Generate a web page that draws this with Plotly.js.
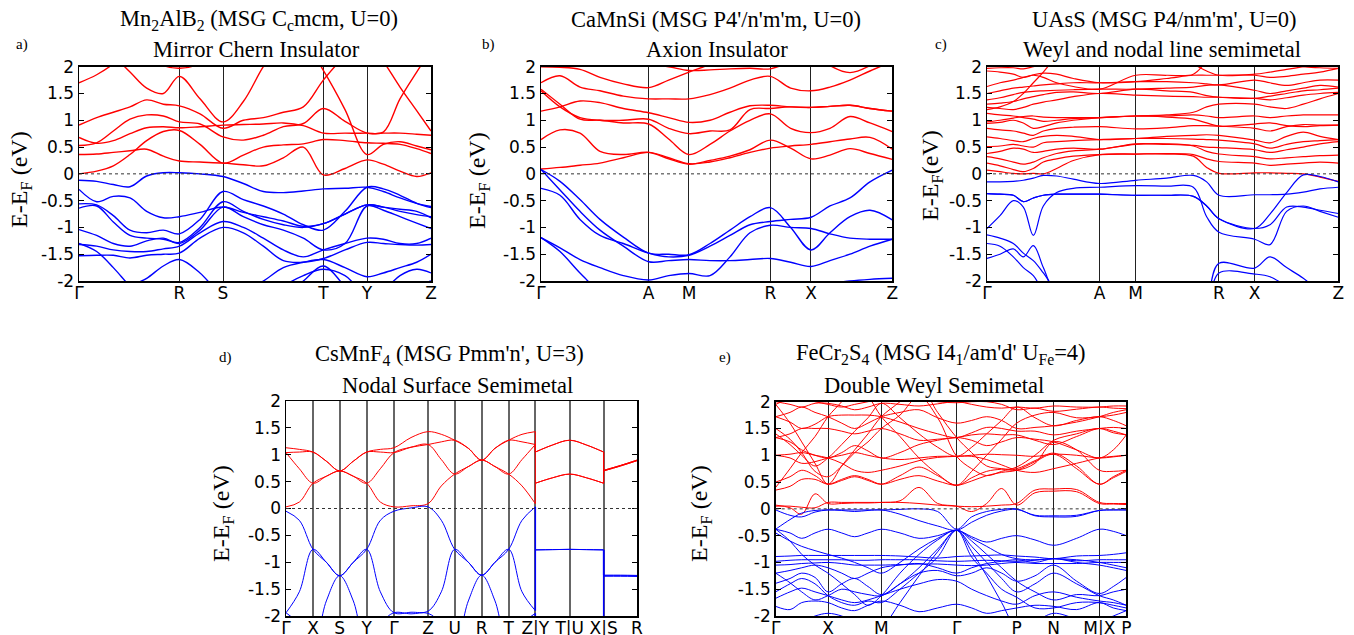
<!DOCTYPE html>
<html><head><meta charset="utf-8">
<script src="https://cdn.plot.ly/plotly-3.0.1.min.js"></script>
<style>html,body{margin:0;padding:0;background:#fff;} #chart{width:1354px;height:635px;}</style>
</head><body><div id="chart"></div>
<script>
// ---------------- Panel a: Mn2AlB2 ----------------
const kA = [0,53,103,153,203,253,301,363,432,493,553,613,673,733,798,864,913,963,1013,1056];
const kA_ticks = [0,301,432,733,864,1056];
const kA_labels = ['Γ','R','S','T','Y','Z'];
const aRed = [
 [0.36,0.37,0.40,0.43,0.46,0.33,0.24,0.22,0.20,0.17,0.15,0.30,0.50,-0.02,0.10,0.26,0.18,0.05,-0.05,0.02],
 [0.00,0.05,0.15,0.36,0.62,0.79,0.81,0.55,0.20,0.35,0.50,0.54,0.56,0.64,0.62,0.58,0.57,0.55,0.47,0.38],
 [0.68,0.57,0.62,0.75,0.86,0.88,0.86,0.88,0.91,0.92,0.93,0.95,0.90,0.76,0.76,0.76,0.78,1.40,1.90,2.30],
 [0.53,0.58,0.80,1.02,1.10,1.08,0.97,0.93,0.69,0.63,0.72,0.88,0.94,1.22,0.98,0.76,0.76,0.76,0.74,0.72],
 [0.91,1.05,1.15,1.25,1.38,1.30,1.27,1.12,0.85,1.00,1.05,1.15,1.25,1.75,2.20,2.50,2.50,2.50,2.50,2.50],
 [1.70,1.85,2.05,2.30,2.50,2.50,2.50,2.50,2.50,2.50,2.50,2.50,2.50,2.50,2.50,2.50,2.50,2.50,2.50,2.50],
 [2.50,2.40,2.20,1.90,1.60,1.50,1.82,1.40,0.97,1.35,2.00,2.50,2.50,2.50,2.50,2.50,2.50,2.50,2.50,2.50],
 [2.50,2.50,2.50,2.40,2.20,2.02,1.97,2.05,2.30,2.50,2.50,2.50,2.50,2.50,2.50,2.50,2.50,2.50,2.50,2.50],
 [2.50,2.50,2.50,2.50,2.50,2.50,2.50,2.50,2.50,2.50,2.50,2.50,2.50,1.93,1.20,0.36,0.55,0.60,0.52,0.45],
 [2.50,2.50,2.50,2.50,2.50,2.50,2.50,2.50,2.50,2.50,2.50,2.50,2.50,2.50,2.50,2.50,2.10,1.62,1.18,0.80]
];
const aBlue = [
 [-0.12,-0.14,-0.20,-0.24,-0.04,0.02,0.02,0.00,-0.05,-0.18,-0.33,-0.35,-0.32,-0.28,-0.27,-0.25,-0.33,-0.45,-0.55,-0.61],
 [-0.29,-0.52,-0.42,-0.45,-0.70,-0.82,-0.80,-0.72,-0.62,-0.72,-0.80,-0.88,-0.98,-0.93,-0.75,-0.58,-0.62,-0.70,-0.76,-0.80],
 [-0.56,-0.58,-0.78,-1.05,-1.10,-1.05,-1.12,-0.85,-0.33,-0.48,-0.60,-0.75,-0.95,-1.05,-0.70,-0.25,-0.28,-0.40,-0.55,-0.63],
 [-0.64,-0.60,-0.90,-1.15,-1.20,-1.22,-1.28,-1.00,-0.52,-0.70,-0.85,-0.95,-1.00,-0.93,-0.75,-0.58,-0.62,-0.66,-0.70,-0.82],
 [-1.04,-1.15,-1.30,-1.35,-1.25,-1.20,-1.30,-1.05,-0.62,-0.80,-0.95,-1.05,-1.20,-1.42,-1.30,-0.60,-0.68,-0.80,-0.92,-1.02],
 [-1.32,-1.35,-1.42,-1.45,-1.45,-1.40,-1.35,-1.10,-0.89,-1.00,-1.20,-1.42,-1.55,-1.42,-1.30,-1.20,-1.22,-1.30,-1.30,-1.20],
 [-1.53,-1.52,-1.52,-1.57,-1.52,-1.50,-1.48,-1.20,-1.00,-1.10,-1.35,-1.62,-1.65,-1.58,-1.42,-1.28,-1.30,-1.32,-1.33,-1.32],
 [-2.60,-2.50,-2.30,-2.10,-1.95,-1.72,-1.60,-1.85,-2.30,-2.50,-2.40,-2.10,-1.90,-1.78,-1.90,-2.30,-2.40,-2.30,-2.10,-2.00],
 [-2.60,-2.60,-2.60,-2.60,-2.60,-2.60,-2.60,-2.60,-2.40,-2.20,-2.00,-1.75,-1.65,-1.60,-1.75,-1.92,-1.85,-1.75,-1.65,-1.50],
 [-2.60,-2.60,-2.60,-2.60,-2.60,-2.60,-2.60,-2.60,-2.60,-2.60,-2.50,-2.30,-2.00,-1.72,-2.10,-2.50,-2.20,-1.90,-1.78,-1.85],
 [-1.30,-1.45,-1.75,-2.10,-2.40,-2.60,-2.60,-2.60,-2.60,-2.60,-2.60,-2.60,-2.60,-2.60,-2.60,-2.60,-2.60,-2.60,-2.60,-2.60]
];

// ---------------- Panel b: CaMnSi ----------------
const kB = [0,57,117,177,247,323,383,444,507,567,627,688,749,810,867,927,987,1054];
const kB_ticks = [0,323,444,688,810,1054];
const kB_labels = ['Γ','A','M','R','X','Z'];
const bRed = [
 [0.09,0.12,0.16,0.20,0.30,0.40,0.30,0.19,0.22,0.30,0.40,0.48,0.52,0.55,0.60,0.65,0.68,0.46],
 [0.64,0.82,0.76,0.42,0.36,0.40,0.28,0.18,0.25,0.33,0.45,0.63,0.48,0.28,0.35,0.47,0.38,0.27],
 [1.17,1.25,1.36,1.33,1.22,1.14,1.05,0.96,1.00,1.15,1.27,1.28,1.25,1.24,1.26,1.28,1.22,1.17],
 [1.58,1.30,1.02,1.00,0.95,0.93,0.65,0.36,0.55,0.80,1.00,1.12,0.85,0.77,0.85,1.07,0.95,0.79],
 [1.70,1.83,1.62,1.55,1.45,1.40,1.40,1.40,1.48,1.60,1.75,1.82,1.60,1.55,1.62,1.75,1.92,2.10],
 [1.55,1.25,1.05,1.00,1.00,1.02,0.85,0.75,0.80,0.82,1.20,1.22,1.25,1.24,1.26,1.28,1.22,1.17],
 [2.00,1.99,1.95,1.80,1.68,1.61,1.75,1.90,2.05,2.30,2.50,2.50,2.50,2.50,2.50,2.50,2.50,2.50],
 [2.50,2.50,2.50,2.30,2.10,2.05,2.00,1.93,1.94,1.96,1.97,1.96,2.10,2.30,2.50,2.50,2.50,2.50],
 [2.50,2.50,2.50,2.50,2.50,2.50,2.50,2.50,2.50,2.50,2.50,2.50,2.50,2.30,2.02,1.89,2.02,2.30]
];
const bBlue = [
 [0.08,-0.14,-0.48,-0.85,-1.18,-1.48,-1.50,-1.51,-1.30,-1.05,-0.80,-0.63,-1.00,-1.42,-1.10,-0.80,-0.68,-0.86],
 [0.08,-0.30,-0.70,-1.05,-1.35,-1.64,-1.62,-1.60,-1.62,-1.62,-1.60,-1.58,-1.65,-1.73,-1.62,-1.50,-1.35,-1.22],
 [-0.27,-0.40,-0.85,-1.15,-1.30,-1.48,-1.55,-1.52,-1.35,-1.15,-0.95,-0.89,-0.85,-0.81,-0.60,-0.45,-0.15,0.07],
 [-1.19,-1.38,-1.60,-1.75,-1.90,-1.98,-1.90,-1.86,-1.90,-1.55,-1.10,-0.96,-1.00,-1.02,-1.12,-1.20,-1.22,-1.22],
 [-1.19,-1.45,-1.85,-2.20,-2.40,-2.40,-2.30,-2.20,-2.20,-2.30,-2.40,-2.40,-2.30,-2.15,-2.05,-2.00,-1.97,-1.95]
];

// ---------------- Panel c: UAsS ----------------
const kC = [0,39,79,109,139,169,209,259,338,446,539,619,659,696,803,849,899,949,999,1054];
const kC_ticks = [0,338,446,696,803,1054];
const kC_labels = ['Γ','A','M','R','X','Z'];
const cRed = [
 [0.07,0.04,0.01,0.00,0.01,0.00,0.10,0.25,0.36,0.37,0.37,0.33,0.12,0.01,0.02,0.02,0.01,0.00,-0.06,-0.14],
 [0.20,0.15,0.08,0.04,0.10,0.22,0.28,0.33,0.36,0.37,0.38,0.36,0.28,0.23,0.20,0.16,0.18,0.20,0.22,0.20],
 [0.32,0.28,0.22,0.18,0.22,0.30,0.38,0.43,0.46,0.55,0.56,0.52,0.42,0.37,0.32,0.28,0.30,0.32,0.34,0.35],
 [0.38,0.42,0.48,0.46,0.40,0.42,0.46,0.48,0.46,0.56,0.55,0.53,0.50,0.49,0.45,0.40,0.45,0.50,0.56,0.60],
 [0.51,0.52,0.55,0.52,0.50,0.58,0.60,0.62,0.64,0.66,0.66,0.65,0.64,0.63,0.56,0.48,0.55,0.60,0.62,0.64],
 [0.69,0.66,0.62,0.60,0.66,0.70,0.72,0.70,0.64,0.66,0.70,0.72,0.73,0.72,0.63,0.58,0.70,0.78,0.70,0.64],
 [0.85,0.82,0.80,0.76,0.72,0.80,0.85,0.87,0.88,0.84,0.86,0.90,0.90,0.89,0.85,0.80,0.88,0.92,0.91,0.91],
 [0.94,0.96,1.00,0.95,0.85,0.88,0.95,1.00,1.05,1.08,1.06,1.02,0.95,0.89,0.93,0.95,0.90,0.88,0.90,0.91],
 [0.97,1.00,1.04,1.07,1.08,1.06,1.05,1.05,1.05,1.08,1.08,1.10,1.08,1.05,1.08,1.05,1.08,1.10,1.10,1.10],
 [1.13,1.10,1.08,1.05,1.02,0.98,1.00,1.03,1.05,1.08,1.10,1.15,1.25,1.30,1.30,1.25,1.22,1.30,1.40,1.50],
 [1.24,1.22,1.20,1.24,1.30,1.34,1.38,1.44,1.50,1.47,1.45,1.44,1.43,1.43,1.41,1.38,1.42,1.47,1.50,1.52],
 [1.30,1.32,1.35,1.40,1.44,1.48,1.52,1.53,1.50,1.58,1.55,1.52,1.46,1.43,1.41,1.45,1.50,1.55,1.57,1.60],
 [1.38,1.42,1.48,1.52,1.54,1.55,1.56,1.57,1.58,1.58,1.60,1.62,1.65,1.66,1.56,1.50,1.55,1.60,1.65,1.62],
 [1.50,1.55,1.60,1.62,1.64,1.66,1.68,1.70,1.70,1.72,1.72,1.70,1.68,1.66,1.75,1.70,1.65,1.70,1.75,1.75],
 [1.63,1.70,1.75,1.80,1.85,1.88,1.86,1.78,1.70,1.72,1.78,1.84,1.84,1.84,1.84,1.80,1.82,1.86,1.90,1.97],
 [1.92,1.90,1.86,1.80,1.84,1.80,1.70,1.63,1.58,1.84,1.84,1.86,2.10,2.30,2.30,2.20,2.10,2.00,1.98,1.97],
 [1.97,1.98,1.98,1.96,2.00,2.05,2.20,2.40,2.40,2.40,2.30,2.05,1.92,1.84,1.86,1.90,1.95,2.00,2.05,2.10],
 [1.20,1.25,1.35,1.50,1.70,1.90,2.20,2.50,2.50,2.50,2.50,2.50,2.50,2.50,2.50,2.50,2.50,2.50,2.50,2.50]
];
const cBlue = [
 [-0.15,-0.15,-0.14,-0.12,-0.08,-0.03,-0.04,-0.10,-0.18,-0.12,-0.08,-0.03,-0.15,-0.40,-0.39,-0.39,-0.38,-0.34,-0.28,-0.25],
 [-0.37,-0.38,-0.40,-0.52,-0.45,-0.40,-0.38,-0.38,-0.38,-0.40,-0.40,-0.42,-0.60,-0.84,-1.02,-0.75,-0.35,-0.02,-0.05,-0.15],
 [-1.02,-0.78,-0.50,-0.62,-1.15,-0.60,-0.35,-0.27,-0.25,-0.22,-0.23,-0.25,-0.80,-1.09,-1.22,-1.32,-0.70,-0.60,-0.70,-0.81],
 [-1.14,-1.20,-1.30,-1.48,-1.62,-1.85,-2.20,-2.50,-2.50,-2.50,-2.50,-2.50,-2.30,-1.67,-1.76,-1.55,-1.75,-1.95,-2.20,-2.50],
 [-1.30,-1.35,-1.55,-1.75,-1.90,-2.20,-2.50,-2.50,-2.50,-2.50,-2.50,-2.50,-2.40,-1.85,-1.87,-1.92,-2.10,-2.30,-2.50,-2.50],
 [-1.58,-1.50,-1.40,-1.55,-1.34,-1.75,-2.30,-2.50,-2.50,-2.50,-2.50,-2.50,-2.50,-2.50,-2.50,-2.50,-2.50,-2.50,-2.50,-2.50],
 [-0.37,-0.38,-0.40,-0.52,-0.45,-0.40,-0.38,-0.38,-0.38,-0.40,-0.40,-0.42,-0.60,-0.84,-1.02,-0.95,-0.62,-0.62,-0.68,-0.74]
];

// ---------------- Panel d: CsMnF4 (three path segments) ----------------
const kD1 = [0,40,81,121,161,202,242,283,324,375,426,466,506,547,587,627,668,708,748];
const kD2 = [748,799,851,902,953];
const kD3 = [953,1003,1053];
const kD_ticks = [0,81,161,242,324,426,506,587,668,748,851,953,1053];
const kD_labels = ['Γ','X','S','Y','Γ','Z','U','R','T','Z|Y','T|U','X|S','R'];
const dRed1 = [
 [1.13,1.10,1.05,0.88,0.70,0.88,1.05,1.10,1.13,1.32,1.43,1.38,1.27,1.12,0.90,1.12,1.27,1.38,1.43],
 [1.04,1.05,1.05,0.88,0.70,0.88,1.05,1.05,1.04,1.14,1.19,1.24,1.27,1.12,0.90,1.12,1.27,1.24,1.19],
 [1.04,0.74,0.47,0.60,0.70,0.60,0.47,0.74,1.04,1.14,1.19,0.91,0.64,0.78,0.90,0.78,0.64,0.91,1.19],
 [0.03,0.12,0.47,0.60,0.70,0.60,0.47,0.12,0.03,0.05,0.09,0.42,0.64,0.78,0.90,0.78,0.64,0.42,0.09]
];
const dRed2 = [
 [1.05,1.18,1.27,1.18,1.05],
 [1.05,1.18,1.27,1.18,1.05],
 [0.47,0.57,0.64,0.57,0.47],
 [0.47,0.57,0.64,0.57,0.47]
];
const dRed3 = [[0.71,0.80,0.90],[0.70,0.79,0.89],[0.71,0.80,0.90],[0.70,0.79,0.89]];
const dBlue1 = [
 [-0.05,-0.22,-0.76,-1.00,-1.25,-1.00,-0.76,-0.22,-0.05,0.01,0.03,-0.22,-0.76,-1.00,-1.24,-1.00,-0.76,-0.22,0.03],
 [-1.94,-1.55,-0.76,-1.00,-1.25,-1.00,-0.76,-1.55,-1.94,-1.93,-1.91,-1.55,-0.76,-1.00,-1.24,-1.00,-0.76,-1.55,-1.90],
 [-1.94,-2.15,-2.60,-1.72,-1.25,-1.72,-2.60,-2.15,-1.94,-1.96,-1.95,-2.15,-2.60,-1.72,-1.24,-1.72,-2.60,-2.15,-1.95]
];
const dBlue2 = [
 [-0.77,-0.765,-0.76,-0.765,-0.77],
 [-0.77,-0.765,-0.76,-0.765,-0.77],
 [-2.60,-2.60,-2.60,-2.60,-2.60]
];
const dBlue3 = [[-1.24,-1.24,-1.245],[-1.26,-1.26,-1.265],[-1.25,-1.25,-1.25]];

// ---------------- Panel e: FeCr2S4 ----------------
const kE = [0,43,78,118,157,198,237,277,317,373,430,486,543,588,633,678,723,778,834,903,971,1013,1052];
const kE_ticks = [0,157,317,543,723,834,971,1052];
const kE_labels = ['Γ','X','M','Γ','P','N','M|X','P'];
const eRed = [
 [0.05,0.05,0.03,0.02,0.12,0.12,0.12,0.12,0.12,0.12,0.10,0.07,0.05,0.04,0.05,0.07,0.10,0.35,0.37,0.36,0.12,0.10,0.10],
 [0.07,0.02,-0.10,0.28,0.10,0.10,0.11,0.11,0.12,0.15,0.40,0.10,0.05,-0.05,0.10,0.38,0.07,0.30,0.33,0.32,0.10,0.09,0.08],
 [0.35,0.42,0.55,0.55,0.46,0.55,0.62,0.55,0.46,0.55,0.62,0.52,0.44,0.52,0.62,0.68,0.72,0.88,1.02,0.75,0.46,0.58,0.70],
 [0.50,0.60,0.72,0.62,0.46,0.53,0.60,0.53,0.46,0.62,0.78,0.62,0.44,0.58,0.70,0.74,0.75,0.90,1.04,0.80,0.46,0.60,0.72],
 [1.00,0.95,0.85,0.88,0.95,1.00,1.05,1.00,0.95,0.92,0.95,0.98,0.98,0.98,0.92,0.82,0.72,0.68,0.75,0.85,0.95,0.98,1.00],
 [1.00,1.02,1.05,1.00,0.95,0.85,0.72,0.68,0.72,0.80,0.90,0.96,0.98,1.00,1.02,1.01,1.00,0.98,1.02,1.00,0.95,0.97,1.00],
 [1.33,1.25,1.10,1.00,0.95,1.05,1.18,1.08,0.95,1.05,1.20,1.28,1.33,1.28,1.18,1.25,1.33,1.30,1.25,1.10,0.95,1.10,1.38],
 [1.33,1.40,1.50,1.50,1.50,1.45,1.40,1.45,1.50,1.40,1.28,1.30,1.33,1.38,1.40,1.38,1.38,1.28,1.20,1.35,1.50,1.45,1.38],
 [1.72,1.62,1.50,1.58,1.72,1.75,1.75,1.75,1.72,1.62,1.50,1.40,1.33,1.42,1.52,1.50,1.45,1.45,1.38,1.45,1.50,1.52,1.50],
 [1.72,1.80,1.90,1.80,1.72,1.60,1.50,1.60,1.72,1.80,1.85,1.70,1.60,1.65,1.72,1.65,1.50,1.52,1.55,1.62,1.72,1.80,1.85],
 [2.00,1.95,1.90,1.97,1.97,1.92,1.85,1.90,1.97,1.95,1.92,1.96,2.00,1.95,1.90,1.88,1.90,1.88,1.92,1.90,1.90,1.92,1.92],
 [1.95,2.05,2.05,2.00,1.95,1.90,1.95,2.00,2.05,2.05,2.05,2.00,1.98,2.00,2.00,1.95,1.85,1.88,1.82,1.86,1.90,1.88,1.87],
 [0.40,0.75,1.05,1.35,1.72,2.00,2.30,2.10,1.72,1.35,0.95,0.65,0.44,0.70,1.00,1.30,1.60,1.75,1.80,1.70,1.72,1.75,1.80],
 [1.95,1.60,1.25,0.85,0.46,0.80,1.10,1.40,1.72,2.00,2.30,1.80,1.33,1.05,0.80,0.75,0.72,0.85,1.25,1.10,0.72,0.70,0.72],
 [1.50,1.30,1.05,0.70,0.60,0.80,1.05,1.25,1.50,1.75,2.10,1.70,0.98,0.75,0.62,0.70,0.78,1.00,1.28,1.40,1.50,1.42,1.38],
 [1.40,1.20,1.00,0.80,0.95,1.20,1.45,1.70,1.97,1.70,1.40,1.15,0.98,1.15,1.40,1.65,1.90,1.70,1.55,1.65,1.72,1.65,1.55]
];
const eBlue = [
 [-0.02,-0.12,-0.15,-0.06,-0.02,-0.02,-0.02,-0.02,-0.02,-0.01,0.00,-0.05,-0.38,-0.15,-0.05,-0.01,0.00,-0.13,-0.15,-0.14,-0.03,-0.02,-0.02],
 [-0.38,-0.20,-0.08,-0.03,-0.02,-0.03,-0.05,-0.03,-0.02,-0.10,-0.22,-0.32,-0.40,-0.25,-0.12,-0.04,-0.01,-0.12,-0.13,-0.12,-0.03,-0.02,-0.02],
 [-0.38,-0.45,-0.55,-0.45,-0.38,-0.45,-0.52,-0.45,-0.38,-0.45,-0.55,-0.50,-0.40,-0.52,-0.62,-0.55,-0.50,-0.58,-0.68,-0.55,-0.38,-0.42,-0.50],
 [-0.38,-0.60,-0.85,-1.05,-1.20,-1.40,-1.60,-1.80,-1.62,-1.20,-0.85,-0.58,-0.40,-0.70,-1.00,-1.30,-1.55,-1.40,-1.20,-1.40,-1.62,-1.70,-1.80],
 [-0.89,-0.88,-0.87,-0.87,-0.87,-0.87,-0.87,-0.87,-0.87,-0.88,-0.90,-0.92,-0.89,-0.88,-0.87,-0.86,-0.88,-0.90,-0.93,-0.88,-0.87,-0.85,-0.82],
 [-0.98,-0.96,-0.95,-0.95,-0.95,-0.95,-0.96,-0.96,-0.95,-0.95,-0.95,-0.97,-0.98,-0.97,-0.96,-0.97,-0.98,-0.96,-0.93,-0.97,-0.95,-0.95,-0.95],
 [-1.05,-1.04,-1.02,-1.01,-1.00,-1.02,-1.05,-1.05,-1.05,-1.04,-1.03,-1.03,-1.05,-1.06,-1.05,-1.02,-1.00,-1.02,-1.02,-1.02,-1.00,-1.00,-1.00],
 [-1.20,-1.15,-1.10,-1.05,-1.10,-1.20,-1.30,-1.20,-1.10,-1.05,-1.02,-1.10,-1.20,-1.10,-1.02,-0.98,-0.95,-1.00,-0.93,-1.00,-1.05,-1.10,-1.15],
 [-1.39,-1.30,-1.20,-1.28,-1.55,-1.40,-1.30,-1.45,-1.60,-1.40,-1.20,-1.15,-1.25,-1.20,-1.10,-1.20,-1.35,-1.25,-1.05,-1.35,-1.58,-1.45,-1.28],
 [-1.67,-1.55,-1.48,-1.55,-1.62,-1.70,-1.75,-1.70,-1.62,-1.50,-1.40,-1.32,-1.35,-1.50,-1.62,-1.72,-1.78,-1.62,-1.55,-1.65,-1.72,-1.75,-1.80],
 [-1.82,-1.88,-1.75,-1.72,-1.75,-1.85,-1.90,-1.80,-1.72,-1.80,-1.92,-1.85,-1.78,-1.85,-1.95,-1.90,-1.85,-1.80,-1.82,-1.88,-1.75,-1.85,-1.90],
 [-2.30,-2.20,-2.10,-2.00,-1.95,-2.00,-2.10,-2.20,-2.20,-1.75,-1.25,-0.80,-0.40,-0.80,-1.25,-1.75,-2.20,-2.10,-1.95,-2.05,-2.10,-2.00,-1.90],
 [-1.20,-1.38,-1.55,-1.70,-1.62,-1.50,-1.55,-1.60,-1.62,-1.40,-1.10,-0.75,-0.40,-0.60,-0.85,-1.10,-1.35,-1.55,-1.70,-1.60,-1.62,-1.55,-1.50],
 [-1.55,-1.40,-1.30,-1.40,-1.62,-1.75,-1.80,-1.72,-1.75,-1.50,-1.20,-0.90,-0.40,-0.90,-1.20,-1.50,-1.65,-1.85,-1.85,-1.75,-1.75,-1.80,-1.85],
 [-0.45,-0.60,-0.70,-0.78,-0.85,-0.92,-1.00,-1.10,-1.20,-1.00,-0.75,-0.55,-0.40,-0.55,-0.70,-0.85,-0.93,-0.95,-0.93,-0.95,-1.00,-1.05,-1.10]
];

const yTickVals = [-2,-1.5,-1,-0.5,0,0.5,1,1.5,2];
const yTickText = ['-2','-1.5','-1','-0.5','0','0.5','1','1.5','2'];

// ---------------- build ----------------
const W = 1354, H = 635;
const RED = '#ff0000', BLUE = '#0000ff';
const traces = [];
function axName(n){ return n === 1 ? '' : String(n); }
function addLines(k, bands, color, n, width){
  bands.forEach(b => traces.push({
    x: k, y: b, type: 'scatter', mode: 'lines',
    xaxis: 'x' + axName(n), yaxis: 'y' + axName(n),
    line: {color: color, width: width, shape: 'spline', smoothing: 1},
    hoverinfo: 'skip', showlegend: false
  }));
}
function addJumps(kEnd, kStart, from, to, color, n, width){
  from.forEach((b, i) => traces.push({
    x: [kEnd, kStart], y: [b[b.length-1], to[i][0]], type: 'scatter', mode: 'lines',
    xaxis: 'x' + axName(n), yaxis: 'y' + axName(n),
    line: {color: color, width: width}, hoverinfo: 'skip', showlegend: false
  }));
}
addLines(kA, aRed, RED, 1, 1.4);  addLines(kA, aBlue, BLUE, 1, 1.4);
addLines(kB, bRed, RED, 2, 1.4);  addLines(kB, bBlue, BLUE, 2, 1.4);
addLines(kC, cRed, RED, 3, 1.2);  addLines(kC, cBlue, BLUE, 3, 1.2);
addLines(kD1, dRed1, RED, 4, 1.0); addLines(kD2, dRed2, RED, 4, 1.0); addLines(kD3, dRed3, RED, 4, 1.0);
addLines(kD1, dBlue1, BLUE, 4, 1.0); addLines(kD2, dBlue2, BLUE, 4, 1.0); addLines(kD3, dBlue3, BLUE, 4, 1.0);
addJumps(kD1[kD1.length-1], kD2[0], dRed1, dRed2, RED, 4, 1.0);
addJumps(kD2[kD2.length-1], kD3[0], dRed2, dRed3, RED, 4, 1.0);
addJumps(kD1[kD1.length-1], kD2[0], dBlue1, dBlue2, BLUE, 4, 1.5);
addJumps(kD2[kD2.length-1], kD3[0], dBlue2, dBlue3, BLUE, 4, 1.5);
addLines(kE, eRed, RED, 5, 1.0);  addLines(kE, eBlue, BLUE, 5, 1.0);

// pixel boxes of the plot areas [left, right, top, bottom]
const boxes = [[79,431,66.7,281],[541,892.3,66.7,281],[987,1338.3,66.7,281],[286,637,401,616],[775.7,1126.3,401.7,616]];
const ticks = [[kA_ticks,kA_labels],[kB_ticks,kB_labels],[kC_ticks,kC_labels],[kD_ticks,kD_labels],[kE_ticks,kE_labels]];
const layout = {
  width: W, height: H, margin: {l:0,r:0,t:0,b:0}, paper_bgcolor: '#fff', plot_bgcolor: '#fff',
  showlegend: false, shapes: [], annotations: []
};
const tickFont = {family: 'DejaVu Sans, sans-serif', size: 17, color: '#000'};
boxes.forEach((bx, i) => {
  const n = i + 1, s = axName(n);
  const tv = ticks[i][0];
  layout['xaxis' + s] = {
    domain: [bx[0]/W, bx[1]/W], anchor: 'y' + s, range: [tv[0], tv[tv.length-1]],
    tickvals: tv, ticktext: ticks[i][1], tickangle: 0, ticks: '', ticklabelstandoff: -4,
    showgrid: true, gridcolor: i === 3 ? '#666' : '#222', gridwidth: i === 3 ? 2 : 1,
    showline: true, mirror: true, linecolor: '#000', linewidth: 1.5, zeroline: false,
    tickfont: tickFont, fixedrange: true
  };
  layout['yaxis' + s] = {
    domain: [1 - bx[3]/H, 1 - bx[2]/H], anchor: 'x' + s, range: [-2, 2],
    tickvals: yTickVals, ticktext: yTickText, ticks: 'inside', ticklen: 5, tickcolor: '#000',
    showgrid: false, showline: true, mirror: 'ticks', linecolor: '#000', linewidth: 1.5, zeroline: false,
    tickfont: tickFont, fixedrange: true
  };
  layout.shapes.push({type: 'line', xref: 'x' + s + ' domain', yref: 'y' + s, x0: 0, x1: 1, y0: 0, y1: 0,
    line: {color: '#333', width: 1, dash: 'dot'}, layer: 'above'});
});
const serif = 'Liberation Serif, Times New Roman, serif';
function ann(text, x, y, size, angle){
  layout.annotations.push({text: text, xref: 'paper', yref: 'paper', x: x/W, y: 1 - y/H,
    xanchor: 'center', yanchor: 'middle', showarrow: false, textangle: angle || 0,
    font: {family: serif, size: size, color: '#000'}});
}
const titles1 = ['Mn<sub>2</sub>AlB<sub>2</sub> (MSG C<sub>c</sub>mcm, U=0)', "CaMnSi (MSG P4'/n'm'm, U=0)", "UAsS (MSG P4/nm'm', U=0)", "CsMnF<sub>4</sub> (MSG Pmm'n', U=3)", "FeCr<sub>2</sub>S<sub>4</sub> (MSG I4<sub>1</sub>/am'd' U<sub>Fe</sub>=4)"];
const titles2 = ['Mirror Chern Insulator', 'Axion Insulator', 'Weyl and nodal line semimetal', 'Nodal Surface Semimetal', 'Double Weyl Semimetal'];
const letters = ['a)', 'b)', 'c)', 'd)', 'e)'];
const t1pos = [[259,19.5],[716,19.5],[1164,19.5],[449,354.5],[941,354]];
const t2pos = [[256,49.5],[717,49.5],[1162,49.5],[457,385],[934,385]];
const lpos = [[22,44],[488,44],[941,44],[225,357],[725,357]];
const ylab = [[21,180],[479,181],[932,176],[223,514],[701,514]];
for (let i = 0; i < 5; i++){
  ann(titles1[i], t1pos[i][0], t1pos[i][1], 22.5);
  ann(titles2[i], t2pos[i][0], t2pos[i][1], 22.5);
  ann(letters[i], lpos[i][0], lpos[i][1], 15);
  ann(i === 2 ? 'E-E<sub>F</sub>(eV)' : 'E-E<sub>F</sub> (eV)', ylab[i][0], ylab[i][1], 24, -90);
}
Plotly.newPlot('chart', traces, layout, {displayModeBar: false, staticPlot: true});
</script></body></html>
